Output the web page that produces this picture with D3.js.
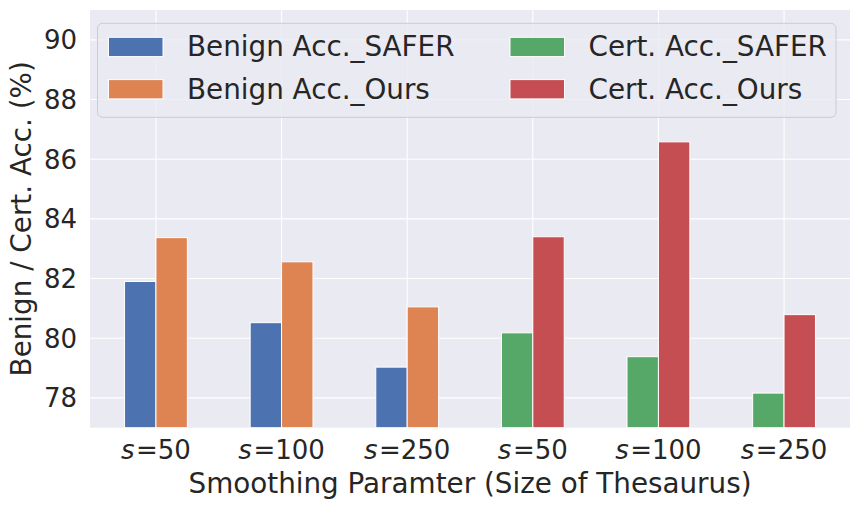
<!DOCTYPE html>
<html>
<head>
<meta charset="utf-8">
<script src="https://cdn.jsdelivr.net/npm/d3@7"></script>
<style>
  body { margin: 0; background: #fff; }
  text { font-family: "DejaVu Sans", sans-serif; fill: #262626; }
</style>
</head>
<body>
<div class="chart"></div>
<script>
// data
var categories = ["50", "100", "250", "50", "100", "250"];
var benignSafer = [81.9, 80.52, 79.03];
var benignOurs = [83.37, 82.56, 81.05];
var certSafer = [80.18, 79.38, 78.16];
var certOurs = [83.4, 86.58, 80.79];
var yTicks = [78, 80, 82, 84, 86, 88, 90];

var seriesNames = ["Benign Acc._SAFER", "Benign Acc._Ours", "Cert. Acc._SAFER", "Cert. Acc._Ours"];
var colors = ["#4C72B0", "#DD8452", "#55A868", "#C44E52"];

var svgWidth = 860;
var svgHeight = 509;
var margin = { top: 10, right: 10, bottom: 81.3, left: 90 };
var width = svgWidth - margin.left - margin.right;
var height = svgHeight - margin.top - margin.bottom;

var svg = d3.select(".chart")
  .append("svg")
  .attr("width", svgWidth)
  .attr("height", svgHeight);

var chartGroup = svg.append("g")
  .attr("transform", `translate(${margin.left}, ${margin.top})`);

// scales (bar width 0.25, matplotlib-like margins)
var barW = 0.25;
var xScale = d3.scaleLinear()
  .domain([-0.525, 5.525])
  .range([0, width]);
var yScale = d3.scaleLinear()
  .domain([77, 91])
  .range([height, 0]);

// background + grid
chartGroup.append("rect")
  .attr("width", width)
  .attr("height", height)
  .attr("fill", "#EAEAF2");

chartGroup.append("g")
  .selectAll("line")
  .data(yTicks)
  .enter()
  .append("line")
  .attr("x1", 0)
  .attr("x2", width)
  .attr("y1", d => yScale(d))
  .attr("y2", d => yScale(d))
  .attr("stroke", "#fff")
  .attr("stroke-width", 1.1);

chartGroup.append("g")
  .selectAll("line")
  .data(d3.range(categories.length))
  .enter()
  .append("line")
  .attr("x1", d => xScale(d))
  .attr("x2", d => xScale(d))
  .attr("y1", 0)
  .attr("y2", height)
  .attr("stroke", "#fff")
  .attr("stroke-width", 1.1);

// bars: first three groups benign, last three cert
var bars = [];
benignSafer.forEach((v, i) => bars.push({ pos: i, off: -1, v: v, s: 0 }));
benignOurs.forEach((v, i) => bars.push({ pos: i, off: 0, v: v, s: 1 }));
certSafer.forEach((v, i) => bars.push({ pos: i + 3, off: -1, v: v, s: 2 }));
certOurs.forEach((v, i) => bars.push({ pos: i + 3, off: 0, v: v, s: 3 }));

chartGroup.append("g")
  .selectAll("rect")
  .data(bars)
  .enter()
  .append("rect")
  .attr("x", d => xScale(d.pos + d.off * barW))
  .attr("width", xScale(barW) - xScale(0))
  .attr("y", d => yScale(d.v))
  .attr("height", d => height - yScale(d.v))
  .attr("fill", d => colors[d.s])
  .attr("stroke", "#fff")
  .attr("stroke-width", 1);

// y tick labels
chartGroup.append("g")
  .selectAll("text")
  .data(yTicks)
  .enter()
  .append("text")
  .attr("x", -13)
  .attr("y", d => yScale(d))
  .attr("dy", "0.36em")
  .attr("text-anchor", "end")
  .style("font-size", "26px")
  .text(d => d);

// x tick labels with italic s
var xt = chartGroup.append("g")
  .selectAll("text")
  .data(categories)
  .enter()
  .append("text")
  .attr("x", (d, i) => xScale(i))
  .attr("y", height + 31.6)
  .attr("text-anchor", "middle")
  .style("font-size", "26px");
xt.append("tspan").style("font-style", "italic").text("s");
xt.append("tspan").attr("dx", 1.5).text(d => "=" + d);

// axis labels
chartGroup.append("text")
  .attr("x", width / 2)
  .attr("y", height + 65)
  .attr("text-anchor", "middle")
  .style("font-size", "27.8px")
  .text("Smoothing Paramter (Size of Thesaurus)");

chartGroup.append("text")
  .attr("transform", `translate(${31 - margin.left}, ${height / 2}) rotate(-90)`)
  .attr("text-anchor", "middle")
  .style("font-size", "27.8px")
  .text("Benign / Cert. Acc. (%)");

// legend
var legend = chartGroup.append("g")
  .attr("transform", "translate(7.5, 13.3)");

legend.append("rect")
  .attr("width", 738.5)
  .attr("height", 94)
  .attr("rx", 5)
  .attr("fill", "#EAEAF2")
  .attr("fill-opacity", 0.8)
  .attr("stroke", "#CCCCCC")
  .attr("stroke-width", 1);

var legendItems = legend.selectAll("g.item")
  .data(seriesNames)
  .enter()
  .append("g")
  .attr("class", "item")
  .attr("transform", (d, i) => `translate(${i < 2 ? 11 : 412.5}, ${i % 2 === 0 ? 14 : 56.3})`);

legendItems.append("rect")
  .attr("width", 54.5)
  .attr("height", 19.3)
  .attr("fill", (d, i) => colors[i])
  .attr("stroke", "#fff")
  .attr("stroke-width", 1);

legendItems.append("text")
  .attr("x", 78.5)
  .attr("y", 19)
  .style("font-size", "27.8px")
  .text(d => d);
</script>
</body>
</html>
